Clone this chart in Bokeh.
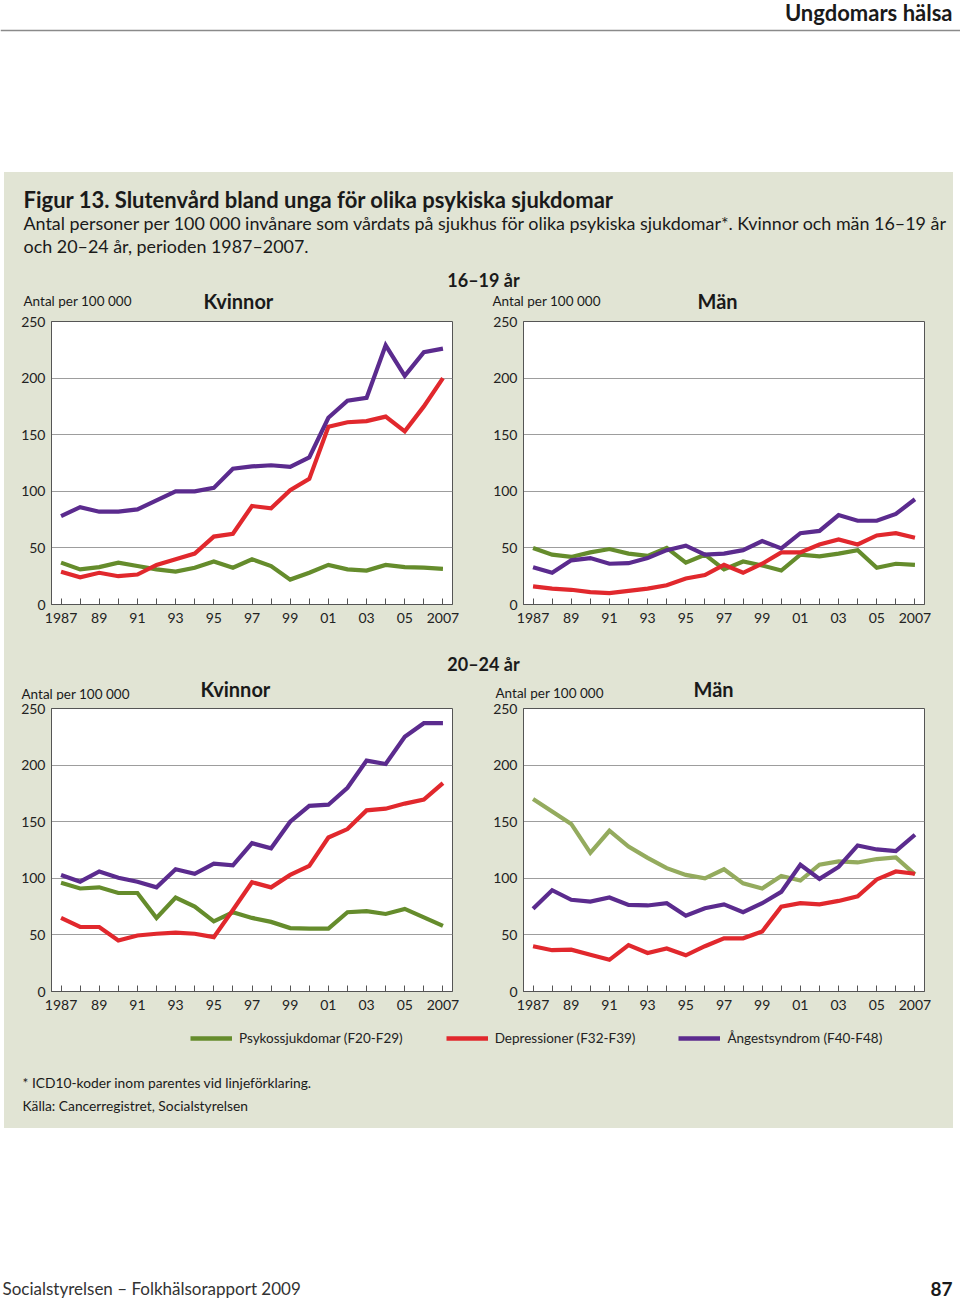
from bokeh.plotting import figure
from bokeh.layouts import column, row
from bokeh.models import (Range1d, FixedTicker, Label, Span, Legend, LegendItem, Spacer)
from bokeh.embed import file_html
from bokeh.resources import INLINE

# ---------------- data ----------------
years = list(range(1987, 2008))
tick_labels = {1987: "1987", 1989: "89", 1991: "91", 1993: "93", 1995: "95", 1997: "97",
               1999: "99", 2001: "01", 2003: "03", 2005: "05", 2007: "2007"}
y_ticks = [0, 50, 100, 150, 200, 250]
series_names = ["Psykossjukdomar (F20-F29)", "Depressioner (F32-F39)", "Ångestsyndrom (F40-F48)"]

# 16-19 år, Kvinnor
k1619_psykos = [37, 31, 33, 37, 34, 31, 29, 32.5, 38, 32.5, 40, 34, 22, 28, 35, 31, 30, 35, 33, 32.5, 31.5]
k1619_depr = [29, 24, 28, 25, 26.5, 35, 40, 45, 60, 62.5, 87, 85, 101, 111, 157, 161, 162, 166, 153, 175, 200]
k1619_angest = [78, 86, 82, 82, 84, 92, 100, 100, 103, 120, 122, 123, 121.5, 130, 165, 180, 182.5, 229, 202, 223, 226]
# 16-19 år, Män
m1619_psykos = [50, 44, 42, 46, 49, 45, 43, 50, 37, 44, 31, 38, 34.5, 30, 44, 42.5, 45, 48, 32.5, 36, 35]
m1619_depr = [16, 14, 13, 11, 10, 12, 14, 17, 23, 26, 35, 28, 36, 46, 46, 53, 57.5, 53, 61, 63, 59]
m1619_angest = [33, 28, 39, 41, 36, 36.5, 41, 48, 52, 44, 45, 48, 56, 49.5, 63, 65, 79, 74, 74, 80, 93]
# 20-24 år, Kvinnor
k2024_psykos = [96, 91, 92, 87, 87, 65, 83, 75, 62, 70, 65, 61.5, 56, 55.5, 55.5, 70, 71, 68.5, 73, 65.5, 58]
k2024_depr = [65, 57, 57, 45, 49.5, 51, 52, 51, 48, 72, 96.5, 92, 103, 111, 136, 143.5, 160, 161.5, 166, 169.5, 184]
k2024_angest = [103, 97, 106, 100.5, 97, 92, 108, 104, 113, 111.5, 131, 126.5, 150, 164, 165, 180, 204, 201, 225, 237, 237]
# 20-24 år, Män
m2024_psykos = [170, 159, 148, 122.5, 142, 128, 118, 109, 103, 100, 108, 95.5, 91, 102, 98, 112, 115, 114, 117, 118.5, 103.5]
m2024_depr = [40, 36.5, 37, 32.5, 28, 41, 34, 38, 32, 40, 47, 47, 53, 75, 78, 77, 80, 84, 99, 106, 104]
m2024_angest = [73, 89.5, 81, 79.5, 83, 76.5, 76, 78, 67, 73.5, 77, 70, 78, 88, 112, 99.5, 110, 129, 125.5, 124, 138.5]

# ---------------- style ----------------
BG = "#e1e4d4"
GREEN = "#658c2c"
GREEN_LIGHT = "#94ab5e"
RED = "#e1282d"
PURPLE = "#5b2b8e"
FONT = "Lato"
TXT = "#1a1a1a"


def text_fig(x0, x1, y0, y1, bg):
    # data coordinates equal page pixel coordinates (y grows downwards)
    p = figure(width=x1 - x0, height=y1 - y0, x_range=Range1d(x0, x1), y_range=Range1d(y1, y0),
               output_backend="svg", toolbar_location=None, min_border=0,
               background_fill_color=bg, border_fill_color=bg, outline_line_color=None)
    p.axis.visible = False
    p.grid.visible = False
    return p


def add_text(p, x, y, txt, size, bold=False, align="left", color=TXT):
    p.add_layout(Label(x=x, y=y, text=txt, text_font=FONT, text_font_size=f"{size}px",
                       text_font_style="bold" if bold else "normal",
                       text_align=align, text_baseline="middle", text_color=color))


def chart(ps, dp, an, green_col, width, left_border, top_border, bottom_border):
    p = figure(width=width, frame_width=401, frame_height=283, x_range=Range1d(1986.5, 2007.5),
               y_range=Range1d(0, 250), output_backend="svg", toolbar_location=None,
               min_border_left=left_border, min_border_right=width - left_border - 401,
               min_border_top=top_border, min_border_bottom=bottom_border,
               background_fill_color="white", border_fill_color=BG,
               outline_line_color="#555555", outline_line_width=1)
    p.xgrid.visible = False
    p.ygrid.ticker = FixedTicker(ticks=y_ticks)
    p.ygrid.grid_line_color = "#9d9d9d"
    p.ygrid.grid_line_width = 1
    p.xaxis.ticker = FixedTicker(ticks=years)
    p.xaxis.major_label_overrides = {y: tick_labels.get(y, "") for y in years}
    p.yaxis.ticker = FixedTicker(ticks=y_ticks)
    for ax in (p.xaxis, p.yaxis):
        ax.axis_line_color = "#555555"
        ax.major_tick_line_color = "#555555"
        ax.minor_tick_line_color = None
        ax.major_label_text_font = FONT
        ax.major_label_text_font_size = "14px"
        ax.major_label_text_color = "#222222"
    p.xaxis.major_tick_in = 6
    p.xaxis.major_tick_out = 0
    p.xaxis.major_label_standoff = 8
    p.yaxis.major_tick_in = 0
    p.yaxis.major_tick_out = 0
    p.yaxis.major_label_standoff = 6
    p.line(years, ps, line_color=green_col, line_width=4.2, line_join="miter")
    p.line(years, dp, line_color=RED, line_width=4.2, line_join="miter")
    p.line(years, an, line_color=PURPLE, line_width=4.2, line_join="miter")
    return p


L, R = 4, 953

# ---------------- header ----------------
hdr = text_fig(0, 960, 0, 172, "white")
add_text(hdr, 952, 12, "Ungdomars hälsa", 22, bold=True, align="right")
hdr.add_layout(Span(location=30, dimension="width", line_color="#8a8a8a", line_width=1.5))

# ---------------- title block ----------------
tb = text_fig(L, R, 172, 311, BG)
add_text(tb, 23, 199, "Figur 13. Slutenvård bland unga för olika psykiska sjukdomar", 22, bold=True)
add_text(tb, 23, 222, "Antal personer per 100 000 invånare som vårdats på sjukhus för olika psykiska sjukdomar*. Kvinnor och män 16–19 år", 17.9)
add_text(tb, 23, 245, "och 20–24 år, perioden 1987–2007.", 17.9)
add_text(tb, 483, 279, "16–19 år", 18, bold=True, align="center")
add_text(tb, 23, 300, "Antal per 100 000", 13.5)
add_text(tb, 203, 300, "Kvinnor", 20, bold=True)
add_text(tb, 492, 300, "Antal per 100 000", 13.5)
add_text(tb, 697, 300, "Män", 20, bold=True)

row1 = row(chart(k1619_psykos, k1619_depr, k1619_angest, GREEN, 476, 47, 10, 26),
           chart(m1619_psykos, m1619_depr, m1619_angest, GREEN, 473, 43, 10, 26), spacing=0)

tb2 = text_fig(L, R, 630, 700, BG)
add_text(tb2, 483, 663, "20–24 år", 18, bold=True, align="center")
add_text(tb2, 21, 693, "Antal per 100 000", 13.5)
add_text(tb2, 200, 688, "Kvinnor", 20, bold=True)
add_text(tb2, 495, 692, "Antal per 100 000", 13.5)
add_text(tb2, 693, 688, "Män", 20, bold=True)

row2 = row(chart(k2024_psykos, k2024_depr, k2024_angest, GREEN, 476, 47, 8, 24),
           chart(m2024_psykos, m2024_depr, m2024_angest, GREEN_LIGHT, 473, 43, 8, 24), spacing=0)

# ---------------- legend + notes ----------------
lg = text_fig(L, R, 1015, 1128, BG)
items = []
for name, col in zip(series_names, [GREEN, RED, PURPLE]):
    r = lg.line(x=[float("nan")], y=[float("nan")], line_color=col, line_width=4.5)
    items.append(LegendItem(label=name, renderers=[r]))
legend = Legend(items=items, orientation="horizontal", location=(190 - L, 82),
                background_fill_alpha=0, border_line_color=None, glyph_width=42,
                glyph_height=12, spacing=43, label_standoff=7, padding=0, margin=0,
                label_text_font=FONT, label_text_font_size="13.5px", label_text_color="#222222")
lg.add_layout(legend)
add_text(lg, 22, 1082, "* ICD10-koder inom parentes vid linjeförklaring.", 13.8)
add_text(lg, 22, 1105, "Källa: Cancerregistret, Socialstyrelsen", 13.8)

# ---------------- footer ----------------
ft = text_fig(0, 960, 1128, 1300, "white")
add_text(ft, 2, 1288, "Socialstyrelsen – Folkhälsorapport 2009", 17, color="#333333")
add_text(ft, 952, 1288, "87", 19, bold=True, align="right")

inner = column(tb, row1, tb2, row2, lg, spacing=0, styles={"background-color": BG})
layout = column(hdr, row(Spacer(width=L, height=956), inner, spacing=0), ft, spacing=0)
open("out.html", "w").write(file_html(layout, INLINE))
